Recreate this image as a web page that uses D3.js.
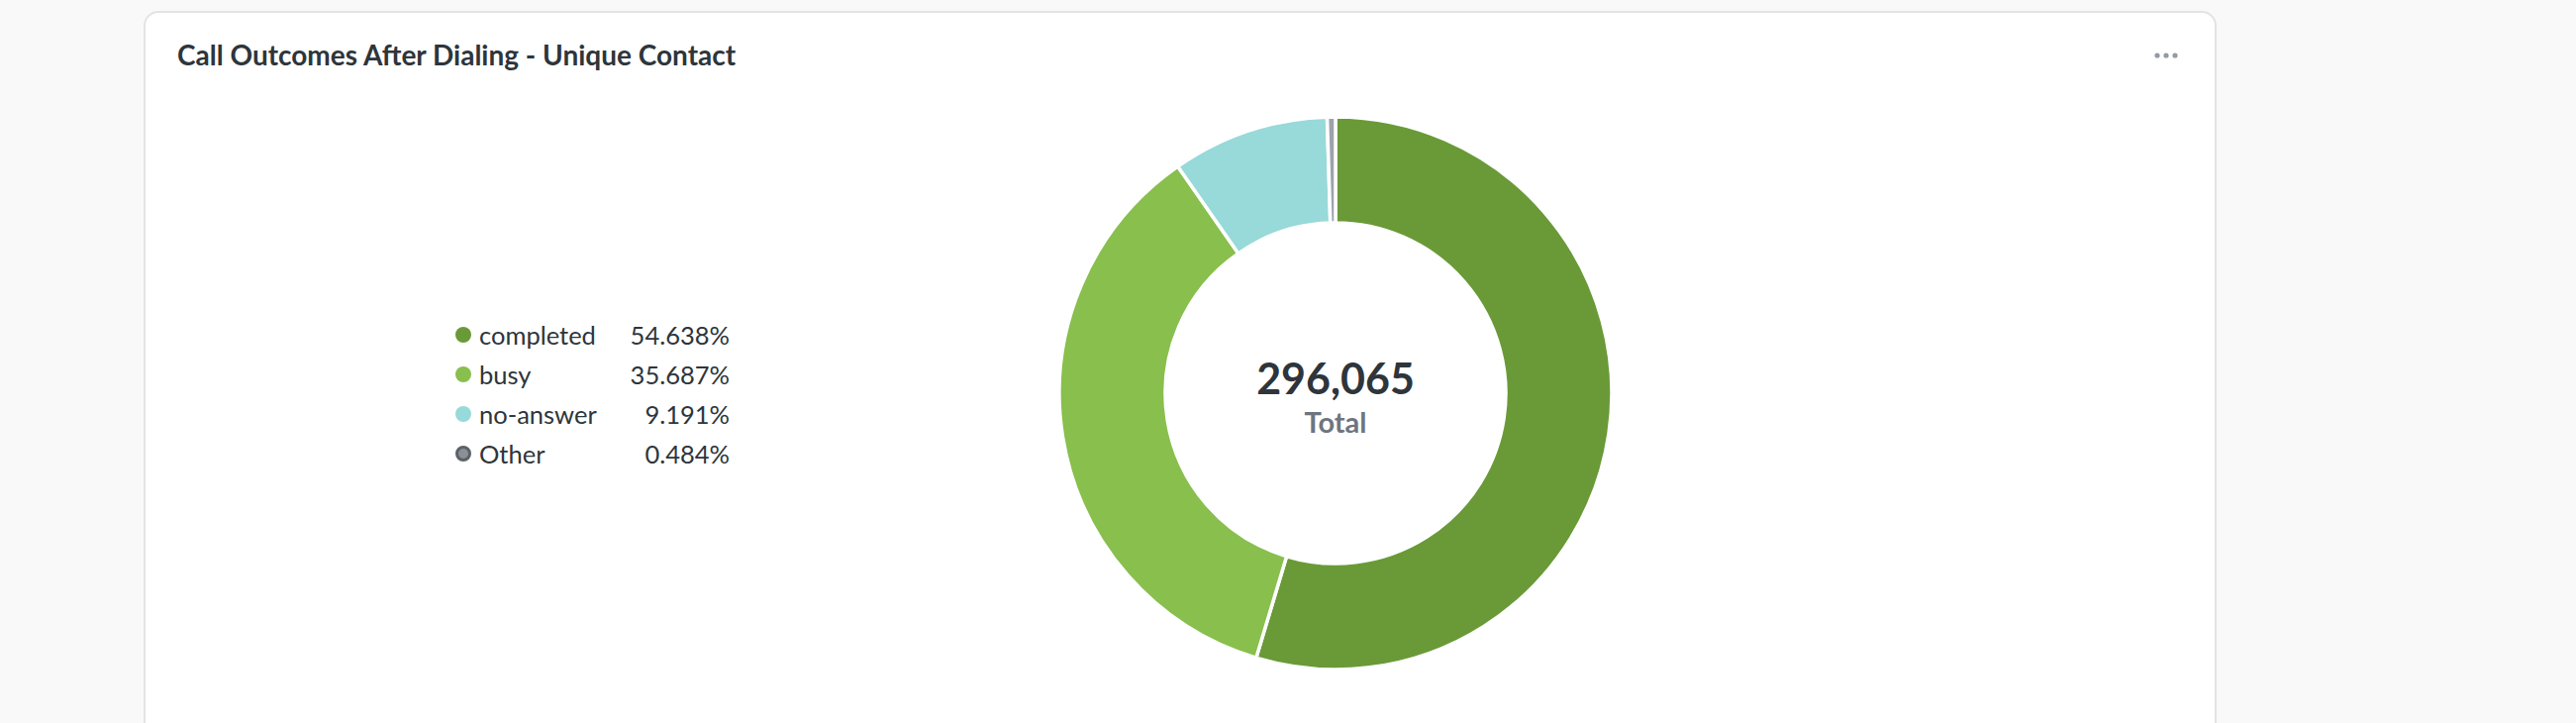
<!DOCTYPE html>
<html>
<head>
<meta charset="utf-8">
<script src="https://cdn.jsdelivr.net/npm/d3@7/dist/d3.min.js"></script>
<style>
  html, body { margin: 0; padding: 0; background: #f9f9f9; }
  svg { display: block; font-family: Lato, "Noto Sans", sans-serif; }
</style>
</head>
<body>
<svg id="chart" width="2602" height="730"></svg>
<script>
const title = "Call Outcomes After Dialing - Unique Contact";
const categories = ["completed", "busy", "no-answer", "Other"];
const counts = [161764, 105657, 27211, 1433];
const percentLabels = ["54.638%", "35.687%", "9.191%", "0.484%"];
const colors = ["#699a37", "#88bf4d", "#98d9d9", "#9ea3ab"];
const totalLabel = "Total";

const svg = d3.select("#chart");

// card
svg.append("rect")
  .attr("x", 146).attr("y", 12)
  .attr("width", 2092).attr("height", 730)
  .attr("rx", 14).attr("ry", 14)
  .attr("fill", "#ffffff")
  .attr("stroke", "#e2e3e5").attr("stroke-width", 2);

svg.append("text")
  .attr("x", 179).attr("y", 66)
  .attr("font-size", 28).attr("font-weight", 700)
  .attr("fill", "#2e353b")
  .text(title);

// menu dots
svg.append("g").selectAll("circle").data([0, 1, 2]).join("circle")
  .attr("cx", d => 2179 + d * 9).attr("cy", 56).attr("r", 2.6)
  .attr("fill", "#949aa1");

// donut
const cx = 1349, cy = 397, R = 279, r = 172;
const pie = d3.pie().sort(null).value(d => d);
const arcs = pie(counts);
const arc = d3.arc().innerRadius(r).outerRadius(R);
const g = svg.append("g").attr("transform", `translate(${cx},${cy})`);
g.selectAll("path").data(arcs).join("path")
  .attr("d", arc)
  .attr("fill", (d, i) => colors[i])
  .attr("stroke", "#ffffff").attr("stroke-width", 3.5)
  .attr("stroke-linejoin", "round");

const total = d3.sum(counts);
g.append("text")
  .attr("x", 0).attr("y", -16).attr("text-anchor", "middle")
  .attr("dominant-baseline", "central")
  .attr("font-size", 43).attr("font-weight", 700).attr("fill", "#2e353b")
  .text(d3.format(",")(total));
g.append("text")
  .attr("x", 0).attr("y", 28).attr("text-anchor", "middle")
  .attr("dominant-baseline", "central")
  .attr("font-size", 29).attr("font-weight", 700).attr("fill", "#6e7580")
  .text(totalLabel);

// legend
const rowY = d3.scalePoint().domain(categories).range([338, 458]);
const lg = svg.append("g");
const rows = lg.selectAll("g").data(categories).join("g")
  .attr("transform", d => `translate(0,${rowY(d)})`);
rows.append("circle")
  .attr("cx", 468).attr("cy", 0).attr("r", (d, i) => i === 3 ? 6.5 : 8)
  .attr("fill", (d, i) => i === 3 ? "#8a9096" : colors[i])
  .attr("stroke", (d, i) => i === 3 ? "#5b6268" : "none")
  .attr("stroke-width", (d, i) => i === 3 ? 3 : 0);
rows.append("text")
  .attr("x", 484).attr("y", 0).attr("dominant-baseline", "central")
  .attr("font-size", 25.5).attr("fill", "#2e353b")
  .text(d => d);
rows.append("text")
  .attr("x", 737).attr("y", 0).attr("dominant-baseline", "central")
  .attr("text-anchor", "end")
  .attr("font-size", 25.5).attr("fill", "#2e353b")
  .text((d, i) => percentLabels[i]);
</script>
</body>
</html>
